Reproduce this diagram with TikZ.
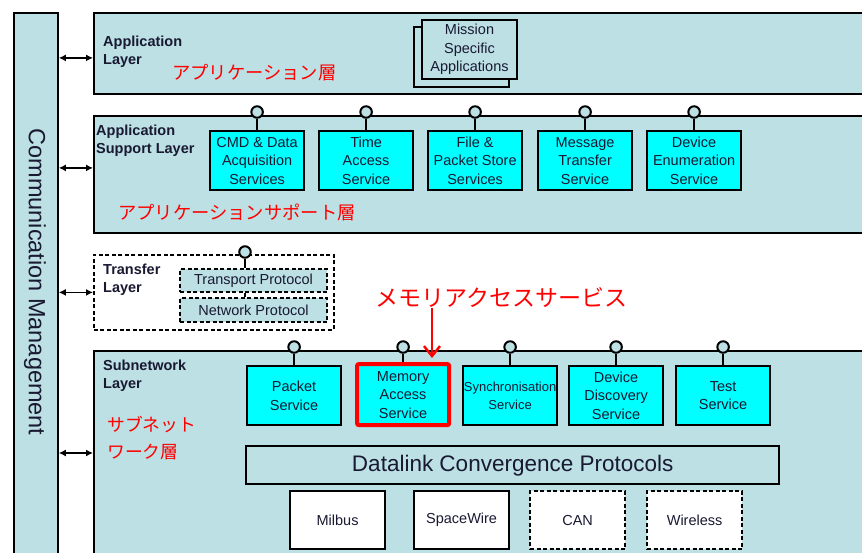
\documentclass[tikz,border=0pt]{standalone}
\usepackage{fontspec}
\setmainfont{Liberation Sans}
\newfontfamily\jpfont{Noto Sans CJK JP}
\usepackage{tikz}
\usetikzlibrary{arrows.meta,positioning,calc}
\usepackage{xcolor}
\definecolor{layerfill}{RGB}{188,224,228}
\definecolor{boxcyan}{RGB}{0,255,255}
\definecolor{inktext}{RGB}{25,25,50}
\definecolor{jpred}{RGB}{255,0,0}

\begin{document}
\begin{tikzpicture}[x=1pt, y=-1pt, >=Latex,
  layer/.style={draw, line width=1.8pt, fill=layerfill, anchor=north west, inner sep=0pt},
  layerlabel/.style={anchor=west, align=left, text=inktext, inner sep=0pt,
    font=\fontsize{14.5}{18}\selectfont\bfseries},
  svc/.style={draw, line width=2.2pt, fill=boxcyan, anchor=north west,
    minimum width=94pt, minimum height=59pt, inner sep=0pt, align=center, text=inktext,
    font=\fontsize{14.5}{18.5}\selectfont},
  dashline/.style={dash pattern=on 4pt off 2.5pt},
  proto/.style={draw, dashline, line width=1.8pt, fill=layerfill, minimum width=147pt,
    minimum height=23pt, inner sep=0pt, text=inktext, font=\fontsize{14.5}{17}\selectfont},
  phy/.style={draw, line width=2.2pt, fill=white, anchor=north west,
    minimum width=95pt, minimum height=58pt, inner sep=0pt, text=inktext,
    font=\fontsize{14.5}{17}\selectfont},
  lolli/.style={circle, draw, line width=2pt, fill=layerfill, minimum size=11.5pt, inner sep=0pt},
  stem/.style={line width=2.2pt},
  cmlink/.style={<->, line width=1.8pt, >={Latex[length=7pt,width=7pt]}},
  jplabel/.style={anchor=west, align=left, text=jpred, inner sep=0pt,
    font=\jpfont\fontsize{18.3}{27}\selectfont}]

  \clip (0,0) rectangle (862,552);

  % Communication management bar
  \node[layer, minimum width=44pt, minimum height=560pt] (comm) at (13,12) {};
  \node[rotate=-90, text=inktext, font=\fontsize{23.5}{26}\selectfont] (commlabel) at (35,282)
    {Communication Management};

  % Layers
  \node[layer, minimum width=777pt, minimum height=81pt] (app) at (93,12) {};
  \node[layer, minimum width=777pt, minimum height=117pt] (support) at (93,115) {};
  \node[layer, dashline, fill=white, minimum width=240pt, minimum height=75pt] (transfer) at (93,254) {};
  \node[layer, minimum width=777pt, minimum height=220pt] (subnet) at (93,350) {};

  \node[layerlabel] (applbl) at (103,52) {Application\\Layer};
  \node[layerlabel] (supportlbl) at (96,140.5) {Application\\Support Layer};
  \node[layerlabel] (transferlbl) at (103,279.5) {Transfer\\Layer};
  \node[layerlabel] (subnetlbl) at (103,376) {Subnetwork\\Layer};

  % Japanese notes
  \node[jplabel] (appjp) at (172,73) {アプリケーション層};
  \node[jplabel] (supportjp) at (118,212) {アプリケーションサポート層};
  \node[jplabel, font=\jpfont\fontsize{17.8}{27}\selectfont] (subnetjp) at (107,438) {サブネット\\ワーク層};
  \node[jplabel, font=\jpfont\fontsize{23}{27}\selectfont] (memlabel) at (375,298) {メモリアクセスサービス};

  % Links to communication management
  \coordinate (appin) at ([yshift=-4.5pt]app.west);
  \coordinate (supportin) at ([yshift=6.5pt]support.west);
  \coordinate (subnetin) at (93,453);
  \draw[cmlink] (comm.east |- appin) -- (appin);
  \draw[cmlink] (comm.east |- supportin) -- (supportin);
  \draw[cmlink] (comm.east |- transfer.west) -- (transfer.west);
  \draw[cmlink] (comm.east |- subnetin) -- (subnetin);

  % Application layer
  \node[svc, fill=layerfill, minimum width=95pt, minimum height=60pt, line width=2pt] (missionback) at (413,26) {};
  \node[svc, fill=layerfill, minimum width=95pt, line width=2pt] (mission) at (421,19)
    {Mission\\Specific\\Applications};

  % Application support layer
  \node[svc] (cmd) at (209,130) {CMD \& Data\\Acquisition\\Services};
  \node[svc] (time) at (318,130) {Time\\Access\\Service};
  \node[svc] (file) at (427,130) {File \&\\Packet Store\\Services};
  \node[svc] (msg) at (537,130) {Message\\Transfer\\Service};
  \node[svc] (enum) at (646,130) {Device\\Enumeration\\Service};

  \node[lolli] (lcmd) at (cmd.north |- 0,112) {};
  \node[lolli] (ltime) at (time.north |- 0,112) {};
  \node[lolli] (lfile) at (file.north |- 0,112) {};
  \node[lolli] (lmsg) at (msg.north |- 0,112) {};
  \node[lolli] (lenum) at (enum.north |- 0,112) {};
  \draw[stem] (lcmd) -- (cmd);
  \draw[stem] (ltime) -- (time);
  \draw[stem] (lfile) -- (file);
  \draw[stem] (lmsg) -- (msg);
  \draw[stem] (lenum) -- (enum);

  % Transfer layer
  \node[proto] (transport) at (253.5,280.5) {Transport Protocol};
  \node[proto, minimum height=24pt] (network) at (253.5,310) {Network Protocol};
  \node[lolli] (ltransfer) at (245,252) {};
  \draw[stem] (ltransfer) -- (ltransfer |- transport.north);
  \draw[stem] (ltransfer |- transport.south) -- (ltransfer |- network.north);

  % Subnetwork layer
  \node[svc] (packet) at (246,365) {Packet\\Service};
  \node[svc, draw=jpred, line width=4.2pt, rounded corners=2pt, minimum width=92pt,
    minimum height=61pt] (memory) at (355,362) {Memory\\Access\\Service};
  \node[svc, font=\fontsize{13}{18}\selectfont] (sync) at (462,365) {Synchronisation\\Service};
  \node[svc] (discovery) at (568,365) {Device\\Discovery\\Service};
  \node[svc] (test) at (675,365) {Test\\Service};

  \node[lolli] (lpacket) at (packet.north |- 0,347) {};
  \node[lolli] (lmemory) at (memory.north |- 0,347) {};
  \node[lolli] (lsync) at (sync.north |- 0,347) {};
  \node[lolli] (ldiscovery) at (discovery.north |- 0,347) {};
  \node[lolli] (ltest) at (test.north |- 0,347) {};
  \draw[stem] (lpacket) -- (packet);
  \draw[stem] (lmemory) -- (memory);
  \draw[stem] (lsync) -- (sync);
  \draw[stem] (ldiscovery) -- (discovery);
  \draw[stem] (ltest) -- (test);

  % Pointer to memory access service
  \coordinate (memtip) at (432,358);
  \draw[jpred, line width=2.4pt, -{Straight Barb[length=10pt,width=16pt,line width=2.4pt]}]
    (memtip |- memlabel.south) -- (memtip);

  \node[draw, line width=2.4pt, fill=layerfill, anchor=north west, minimum width=533pt,
    minimum height=38pt, inner sep=0pt, text=inktext, font=\fontsize{22.5}{26}\selectfont]
    (datalink) at (245,445) {Datalink Convergence Protocols};

  \node[phy] (milbus) at (289,490) {Milbus};
  \node[phy] (spacewire) at (413,490) {SpaceWire};
  \node[phy, dashline] (can) at (529,490) {CAN};
  \node[phy, dashline] (wireless) at (646,490) {Wireless};
\end{tikzpicture}
\end{document}
